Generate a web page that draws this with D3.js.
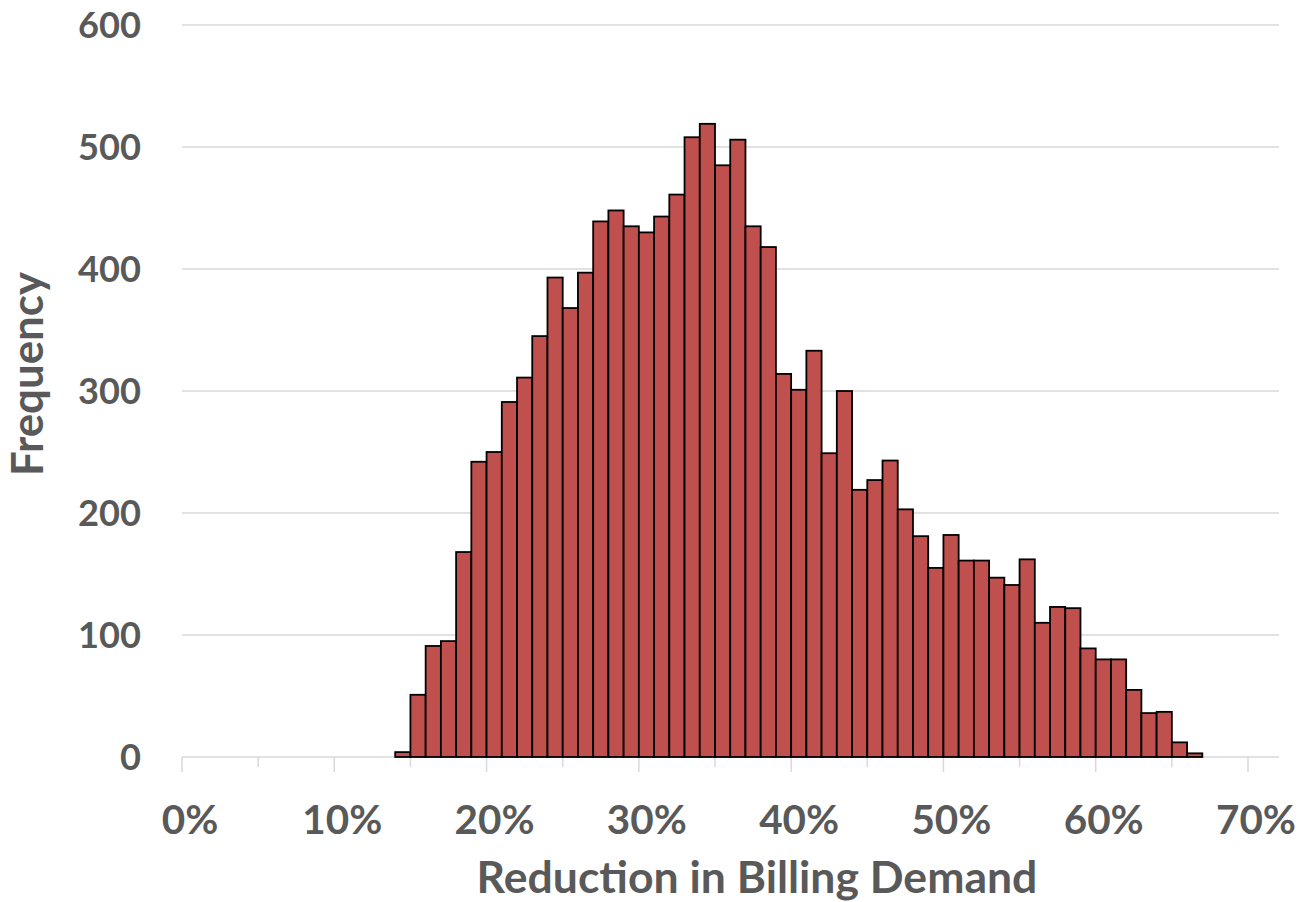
<!DOCTYPE html>
<html>
<head>
<meta charset="utf-8">
<script src="https://cdn.jsdelivr.net/npm/d3@7"></script>
<style>
  html, body { margin: 0; padding: 0; background: #fff; }
  svg { display: block; }
  text { font-family: Lato, "Open Sans", sans-serif; font-weight: 700; fill: #595959; }
</style>
</head>
<body>
<svg id="chart" width="1301" height="902"></svg>
<script>
// ---- data ----
const binStarts = [14,15,16,17,18,19,20,21,22,23,24,25,26,27,28,29,30,31,32,33,34,35,36,37,38,39,40,
  41,42,43,44,45,46,47,48,49,50,51,52,53,54,55,56,57,58,59,60,61,62,63,64,65,66]; // percent
const frequencies = [4,51,91,95,168,242,250,291,311,345,393,368,397,439,448,435,430,443,461,508,519,485,506,435,418,314,301,
  333,249,300,219,227,243,203,181,155,182,161,161,147,141,162,110,123,122,89,80,80,55,36,37,12,3];
const binWidth = 1; // percent
const yTicks = [0,100,200,300,400,500,600];
const xMajorTicks = [0,10,20,30,40,50,60,70];
const xMinorTicks = [5,15,25,35,45,55,65];
const xTitle = "Reduction in Billing Demand";
const yTitle = "Frequency";

// ---- layout ----
const svg = d3.select("#chart");
const x = d3.scaleLinear().domain([0, 70]).range([182, 1248]);
const y = d3.scaleLinear().domain([0, 600]).range([757, 25]);
const plotRight = 1279;
const gridColor = "#d9d9d9";

function fitWidth(sel, target) {
  const node = sel.node();
  sel.style("font-size", "100px");
  const w = node.getComputedTextLength();
  sel.style("font-size", (100 * target / w) + "px");
}

// gridlines
svg.append("g").selectAll("line").data(yTicks.filter(d => d > 0)).join("line")
  .attr("x1", x(0)).attr("x2", plotRight)
  .attr("y1", d => y(d)).attr("y2", d => y(d))
  .attr("stroke", gridColor).attr("stroke-width", 1.3);

// x axis line
svg.append("line").attr("x1", x(0)).attr("x2", plotRight)
  .attr("y1", y(0)).attr("y2", y(0)).attr("stroke", gridColor).attr("stroke-width", 1.5);

// ticks
svg.append("g").selectAll("line").data(xMajorTicks).join("line")
  .attr("x1", d => x(d)).attr("x2", d => x(d)).attr("y1", y(0)).attr("y2", y(0) + 15)
  .attr("stroke", gridColor).attr("stroke-width", 1.5);
svg.append("g").selectAll("line").data(xMinorTicks).join("line")
  .attr("x1", d => x(d)).attr("x2", d => x(d)).attr("y1", y(0)).attr("y2", y(0) + 10)
  .attr("stroke", gridColor).attr("stroke-width", 1.5);

// bars
svg.append("g").selectAll("rect").data(binStarts.map((b, i) => ({b, f: frequencies[i]}))).join("rect")
  .attr("x", d => x(d.b)).attr("width", d => x(d.b + binWidth) - x(d.b))
  .attr("y", d => y(d.f)).attr("height", d => y(0) - y(d.f))
  .attr("fill", "#c0504d").attr("stroke", "#000").attr("stroke-width", 1.8);

// y tick labels
const yl = svg.append("g").selectAll("text").data(yTicks).join("text")
  .attr("x", 141).attr("y", d => y(d)).attr("dy", "0.36em")
  .attr("text-anchor", "end").text(d => d);
const tmpY = svg.append("text").text("600");
fitWidth(tmpY, 63);
const yFont = tmpY.style("font-size"); tmpY.remove();
yl.style("font-size", yFont);

// x tick labels
const xl = svg.append("g").selectAll("text").data(xMajorTicks).join("text")
  .attr("x", d => x(d) + 8).attr("y", 834)
  .attr("text-anchor", "middle").text(d => d + "%");
const tmpX = svg.append("text").text("10%");
fitWidth(tmpX, 80);
const xFont = tmpX.style("font-size"); tmpX.remove();
xl.style("font-size", xFont);

// axis titles
const xt = svg.append("text").attr("x", 757).attr("y", 893).attr("text-anchor", "middle").text(xTitle);
fitWidth(xt, 561);
const yt = svg.append("text").attr("transform", "translate(43,374) rotate(-90)")
  .attr("text-anchor", "middle").text(yTitle);
fitWidth(yt, 204);
</script>
</body>
</html>
